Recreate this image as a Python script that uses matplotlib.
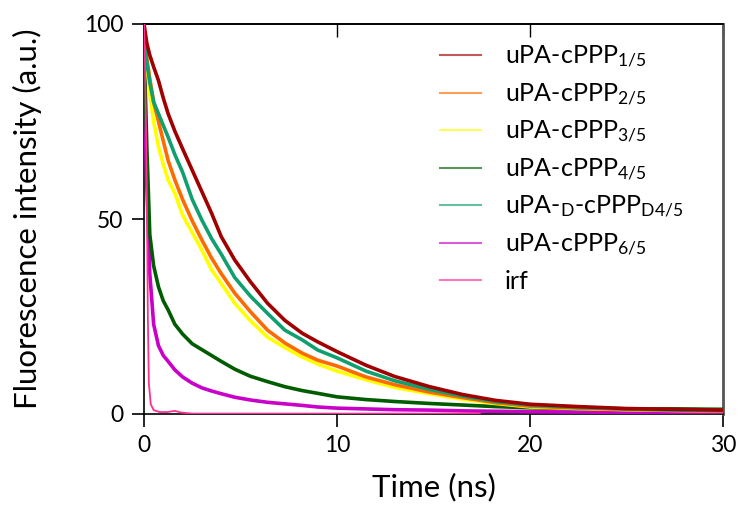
import matplotlib
matplotlib.use("Agg")
from matplotlib import pyplot as plt

FONT = "Lato"
TICK_SIZE: float = 16.5
LABEL_SIZE: float = 22.5
LEGEND_SIZE: float = 18

# legend layout, in axes fractions
LEG_LINE_X = (0.511, 0.582)
LEG_TEXT_X = 0.6235
LEG_TOP_Y = 0.9205
LEG_STEP = 0.0962
LEG_BASELINE_DROP = 0.022

# time grid (ns) shared by the sample decays
time_ns = [0, 0.15, 0.3, 0.5, 0.75, 1.0, 1.25, 1.6, 2.0, 2.5, 3.0, 3.5, 4.0, 4.7, 5.5,
           6.4, 7.3, 8.2, 9.0, 10, 11.5, 13, 14.8, 16.5, 18.2, 20, 22.5, 25, 27.5, 30]

cppp_1_5 = [100, 95, 92, 89, 85.5, 81, 77, 72.5, 68, 62.5, 57, 51.5, 45.5, 39.5, 34,
            28.4, 24, 20.7, 18.5, 16, 12.5, 9.6, 7, 5, 3.5, 2.5, 1.9, 1.4, 1.2, 1.0]
cppp_2_5 = [97, 91, 86, 80, 75, 70, 65, 60, 55, 49.5, 44.6, 40, 36, 31, 26.3,
            21.5, 18.2, 15.6, 13.8, 12.3, 9.5, 7.5, 5.6, 4.2, 2.9, 2.0, 1.5, 1.2, 1.0, 0.8]
cppp_3_5 = [95, 90, 82, 75, 68.5, 64, 60, 56.6, 51, 46.5, 42, 37, 33.5, 28.4, 24,
            19.7, 17, 14.6, 12.8, 11, 8.8, 6.8, 5.2, 3.8, 2.7, 1.8, 1.4, 1.1, 0.9, 0.8]
cppp_4_5 = [95, 68, 46, 38, 32.6, 29, 26.7, 23, 20.5, 18, 16.5, 15, 13.5, 11.5, 9.7,
            8.3, 7, 6, 5.3, 4.4, 3.7, 3.2, 2.7, 2.3, 1.9, 1.6, 1.4, 1.3, 1.3, 1.2]
cppp_d4_5 = [98, 90, 85, 80, 77, 74, 71, 66.5, 62, 55, 49.7, 45, 41, 35, 30.3,
             25.8, 21.5, 19, 16.4, 14.4, 11, 8.5, 6.3, 4.6, 3.2, 2.3, 1.7, 1.3, 1.0, 0.9]
cppp_6_5 = [90, 58, 36, 23, 17.5, 15, 13.5, 11.3, 9.5, 7.9, 6.7, 5.9, 5.2, 4.3, 3.6,
            3.0, 2.6, 2.2, 1.8, 1.5, 1.3, 1.1, 1.0, 0.8, 0.7, 0.6, 0.5, 0.4, 0.35, 0.3]

irf_time = [0, 0.05, 0.1, 0.15, 0.2, 0.25, 0.35, 0.5, 0.8, 1.2, 1.6, 1.9, 2.5, 17.4]
irf_vals = [100, 90, 75, 55, 25, 8, 2.5, 1.0, 0.5, 0.5, 0.8, 0.4, 0.1, 0.1]

labels = [
    r"uPA-cPPP$_{1/5}$",
    r"uPA-cPPP$_{2/5}$",
    r"uPA-cPPP$_{3/5}$",
    r"uPA-cPPP$_{4/5}$",
    r"uPA-$_{D}$-cPPP$_{D4/5}$",
    r"uPA-cPPP$_{6/5}$",
    "irf",
]
colors = ["#a00000", "#ff6a00", "#ffff00", "#005c00", "#10a070", "#c800c8", "#ff2f92"]
zorders = [8, 7, 6, 5, 7.5, 4, 9]

plt.rcParams["font.family"] = [FONT, "DejaVu Sans"]
plt.rcParams["mathtext.fontset"] = "custom"
plt.rcParams["mathtext.rm"] = FONT
plt.rcParams["mathtext.default"] = "regular"

fig = plt.figure(figsize=(7.39, 5.05), dpi=100)
ax = fig.add_axes([144 / 739, 1 - 414 / 505, (723 - 144) / 739, (414 - 24) / 505])

series = [cppp_1_5, cppp_2_5, cppp_3_5, cppp_4_5, cppp_d4_5, cppp_6_5]
for vals, lab, col, z in zip(series, labels[:-1], colors[:-1], zorders[:-1]):
    ax.plot(time_ns, vals, color=col, lw=2.6, label=lab, zorder=z)
ax.plot(irf_time, irf_vals, color=colors[-1], lw=1.3, label=labels[-1], zorder=zorders[-1])

ax.set_xlim(0, 30)
ax.set_ylim(0, 100)
ax.set_xticks([0, 10, 20, 30])
ax.set_yticks([0, 50, 100])
ax.tick_params(direction="out", length=9, width=1.2, labelsize=TICK_SIZE, pad=6)
ax.set_xlabel("Time (ns)", fontsize=LABEL_SIZE, labelpad=12)
ax.set_ylabel("Fluorescence intensity (a.u.)", fontsize=LABEL_SIZE, labelpad=30)

top = ax.secondary_xaxis("top")
top.set_xticks([0, 10, 20, 30])
top.tick_params(direction="in", length=9, width=1.0, labeltop=False)

for side in ["left", "bottom", "top"]:
    ax.spines[side].set_linewidth(1.2)
ax.spines["right"].set_linewidth(2)
ax.spines["right"].set_color("#555555")
top.spines["top"].set_linewidth(1.2)

# legend with evenly spaced rows (mathtext subscripts make the built-in one uneven)
for i, (lab, col) in enumerate(zip(labels, colors)):
    y = LEG_TOP_Y - i * LEG_STEP
    ax.plot(LEG_LINE_X, [y, y], transform=ax.transAxes, color=col, lw=1.5,
            alpha=0.65, clip_on=False, zorder=10)
    ax.text(LEG_TEXT_X, y - LEG_BASELINE_DROP, lab, transform=ax.transAxes,
            fontsize=LEGEND_SIZE, va="baseline", ha="left", zorder=10)

fig.savefig("out.png", dpi=100)
